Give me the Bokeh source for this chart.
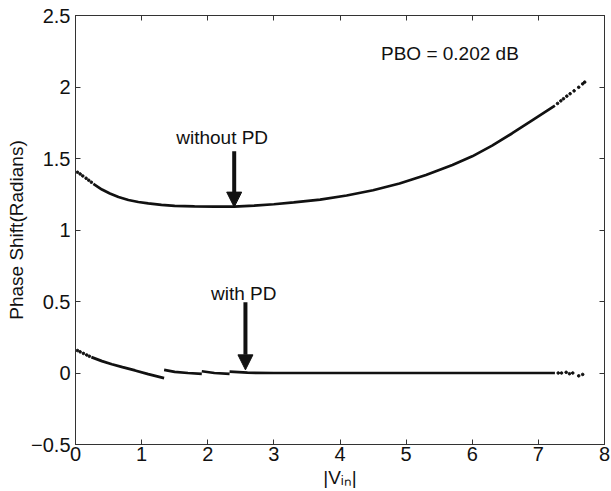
from bokeh.plotting import figure
from bokeh.models import (LinearAxis, FixedTicker, Label, Arrow, NormalHead,
                          Range1d, CustomJSTickFormatter)
from bokeh.embed import file_html
from bokeh.resources import INLINE

# ---------------- data ----------------
x_ticks = [0, 1, 2, 3, 4, 5, 6, 7, 8]
y_ticks = [-0.5, 0, 0.5, 1, 1.5, 2, 2.5]
y_tick_labels = ["\u22120.5", "0", "0.5", "1", "1.5", "2", "2.5"]
x_label = "|V\u1d62\u2099|"

# without PD (solid part)
nopd_x = [0.27, 0.4, 0.52, 0.65, 0.8, 0.95, 1.1, 1.3, 1.5, 1.8, 2.1, 2.4, 2.7,
          3.0, 3.3, 3.7, 4.1, 4.5, 4.9, 5.3, 5.7, 6.0, 6.3, 6.6, 6.9, 7.25]
nopd_y = [1.323, 1.283, 1.255, 1.231, 1.210, 1.196, 1.186, 1.176, 1.169, 1.165,
          1.163, 1.164, 1.170, 1.180, 1.193, 1.213, 1.241, 1.278, 1.325, 1.385,
          1.455, 1.515, 1.590, 1.675, 1.765, 1.870]
# without PD (sparse dotted ends)
nopd_dot_x = [0.03, 0.07, 0.11, 0.16, 0.20, 0.24,
              7.29, 7.34, 7.38, 7.43, 7.48, 7.54, 7.61, 7.67, 7.70]
nopd_dot_y = [1.404, 1.392, 1.378, 1.362, 1.348, 1.334,
              1.885, 1.903, 1.918, 1.936, 1.953, 1.973, 1.998, 2.022, 2.034]

# with PD (solid segments)
pd_seg1_x = [0.24, 0.4, 0.55, 0.71, 0.9, 1.1, 1.34]
pd_seg1_y = [0.111, 0.083, 0.061, 0.041, 0.018, -0.008, -0.036]
pd_seg2_x = [1.34, 1.5, 1.7, 1.91]
pd_seg2_y = [0.022, 0.008, 0.0, -0.006]
pd_seg3_x = [1.91, 2.1, 2.33]
pd_seg3_y = [0.012, 0.0, -0.006]
pd_seg4_x = [2.33, 2.6, 3.0, 4.0, 5.0, 6.0, 7.0, 7.25]
pd_seg4_y = [0.010, 0.002, 0.0, 0.0, 0.0, 0.0, 0.0, 0.0]
# with PD (sparse dotted ends)
pd_dot_x = [0.03, 0.07, 0.12, 0.17, 0.21, 7.30, 7.35, 7.42, 7.47, 7.52, 7.61, 7.67]
pd_dot_y = [0.157, 0.148, 0.137, 0.126, 0.117, 0.0, 0.0, 0.005, -0.005, 0.0, -0.02, -0.01]

FONT = "Liberation Sans"
INK = "#111111"

p = figure(width=611, height=491, x_range=Range1d(0, 8), y_range=Range1d(-0.5, 2.5),
           output_backend="svg", toolbar_location=None,
           min_border_left=75, min_border_right=7, min_border_top=15, min_border_bottom=47)
p.grid.visible = False
p.outline_line_color = "#333333"
p.outline_line_width = 1
p.background_fill_color = "white"
p.border_fill_color = "white"

for ax in (p.xaxis[0], p.yaxis[0]):
    ax.major_tick_in = 5
    ax.major_tick_out = 0
    ax.minor_tick_in = 0
    ax.minor_tick_out = 0
    ax.axis_line_color = "#333333"
    ax.major_tick_line_color = "#333333"
    ax.major_label_text_font = FONT
    ax.major_label_text_font_size = "20px"
    ax.major_label_text_color = "#111111"
    ax.axis_label_text_font = FONT
    ax.axis_label_text_font_size = "19px"
    ax.axis_label_text_font_style = "normal"
    ax.axis_label_text_color = "#111111"

p.xaxis.ticker = FixedTicker(ticks=x_ticks)
p.xaxis.major_label_standoff = 2
p.xaxis.axis_label = x_label
p.xaxis.axis_label_standoff = 3
p.yaxis.ticker = FixedTicker(ticks=y_ticks)
p.yaxis.major_label_overrides = {t: s for t, s in zip(y_ticks, y_tick_labels)}
p.yaxis.major_label_standoff = 5
p.yaxis.axis_label = "Phase Shift(Radians)"
p.yaxis.axis_label_standoff = 1

blank = CustomJSTickFormatter(code="return '';")
top = LinearAxis(ticker=FixedTicker(ticks=x_ticks), formatter=blank,
                 major_tick_in=5, major_tick_out=0, minor_tick_in=0, minor_tick_out=0,
                 major_label_standoff=0, axis_line_color="#333333",
                 major_tick_line_color="#333333")
right = LinearAxis(ticker=FixedTicker(ticks=y_ticks), formatter=blank,
                   major_tick_in=5, major_tick_out=0, minor_tick_in=0, minor_tick_out=0,
                   major_label_standoff=0, axis_line_color="#333333",
                   major_tick_line_color="#333333")
p.add_layout(top, "above")
p.add_layout(right, "right")

# curves
LW = 2.7
p.line(nopd_x, nopd_y, line_width=LW, color=INK)
p.scatter(nopd_dot_x, nopd_dot_y, size=2.6, marker="circle", color=INK)
for xs, ys in ((pd_seg1_x, pd_seg1_y), (pd_seg2_x, pd_seg2_y),
               (pd_seg3_x, pd_seg3_y), (pd_seg4_x, pd_seg4_y)):
    p.line(xs, ys, line_width=LW, color=INK)
p.scatter(pd_dot_x, pd_dot_y, size=2.6, marker="circle", color=INK)

# annotations
def txt(x, y, s, size="19px", **kw):
    lab = Label(x=x, y=y, text=s, text_font=FONT, text_font_size=size,
                text_color="#111111", text_baseline="alphabetic", **kw)
    p.add_layout(lab)

txt(4.62, 2.232, "PBO = 0.202 dB")
txt(1.523, 1.649, "without PD")
txt(2.05, 0.558, "with PD")

head = dict(size=15, fill_color=INK, line_color=INK)
p.add_layout(Arrow(end=NormalHead(**head), x_start=2.40, y_start=1.551,
                   x_end=2.40, y_end=1.16, line_width=4, line_color=INK))
p.add_layout(Arrow(end=NormalHead(**head), x_start=2.57, y_start=0.495,
                   x_end=2.57, y_end=0.022, line_width=4, line_color=INK))

open("out.html", "w").write(file_html(p, INLINE))
